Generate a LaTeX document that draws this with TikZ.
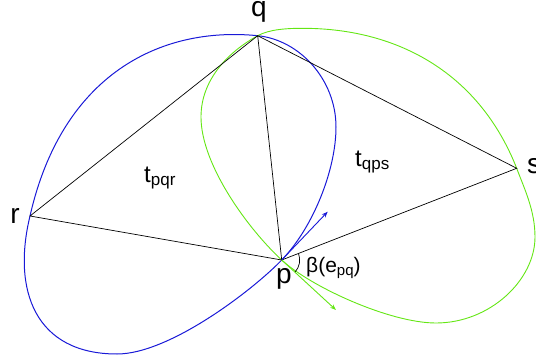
\documentclass[tikz,border=0pt]{standalone}
\usepackage{fontspec}
\setmainfont{Liberation Sans}
\usetikzlibrary{arrows.meta}

\definecolor{loopblue}{RGB}{25,25,215}
\definecolor{loopgreen}{RGB}{100,230,20}

\newcommand{\lowtext}[2][17]{\raisebox{-3pt}{\fontsize{#1}{#1}\selectfont #2}}

\begin{document}
\begin{tikzpicture}[x=1pt, y=1pt,
    vlabel/.style={font=\fontsize{28}{30}\selectfont, inner sep=0pt, anchor=base},
    tlabel/.style={font=\fontsize{24}{26}\selectfont, inner sep=0pt, anchor=base west},
    edge/.style={black, line width=0.7pt},
    blueloop/.style={draw=loopblue, line width=1pt},
    greenloop/.style={draw=loopgreen, line width=0.9pt},
    tangent/.style={-{Stealth[length=6pt, width=4.5pt]}, line width=0.9pt}
  ]
  \useasboundingbox (0,0) rectangle (536,-361);
  % vertices
  \coordinate (p) at (281.7,-260);
  \coordinate (q) at (257.7,-35.7);
  \coordinate (r) at (30,-216);
  \coordinate (s) at (516.7,-168.3);
  % tips of the tangents at p
  \coordinate (bt) at (327.7,-211.7);
  \coordinate (gt) at (336,-310);

  % curve through p, q, r
  \draw[blueloop] (p) .. controls (313,-227.6) and (336,-170) .. (336,-127)
    .. controls (336,-80) and (300,-40) .. (q)
    .. controls (160,-26) and (62,-75) .. (r)
    .. controls (12,-290) and (35,-354) .. (117,-354)
    .. controls (170,-354) and (254,-289) .. (p);
  % curve through p, q, s
  \draw[greenloop] (p) .. controls (311,-287) and (390,-323) .. (436,-323)
    .. controls (490,-323) and (535,-280) .. (535,-237)
    .. controls (535,-210) and (524,-188) .. (s)
    .. controls (480,-75) and (400,-28.3) .. (302.7,-28.3)
    .. controls (288,-28.3) and (269.7,-29.1) .. (q)
    .. controls (227.7,-52.2) and (201,-80) .. (201,-117)
    .. controls (201,-165) and (248.6,-229.5) .. (p);

  % triangles
  \draw[edge] (r) -- (q) -- (p) -- cycle;
  \draw[edge] (q) -- (s) -- (p);
  \draw[edge] (p) ++(21.3:18) arc[start angle=21.3, end angle=-42.6, radius=18];

  % tangents
  \draw[tangent, loopblue] (p) -- (bt);
  \draw[tangent, loopgreen] (p) -- (gt);

  % labels
  \node[vlabel] (lq) at (259,-17) {q};
  \node[vlabel] (lp) at (284,-283.5) {p};
  \node[vlabel] (lr) at (15,-223) {r};
  \node[vlabel, anchor=base west] (ls) at (527,-173) {s};
  \node[tlabel] (tpqr) at (144,-182) {t\lowtext{pqr}};
  \node[tlabel] (tqps) at (355,-166) {t\lowtext{qps}};
  \node[tlabel, font=\fontsize{21}{24}\selectfont] (beta) at (306,-272) {β(e\lowtext[15]{pq})};
\end{tikzpicture}
\end{document}
